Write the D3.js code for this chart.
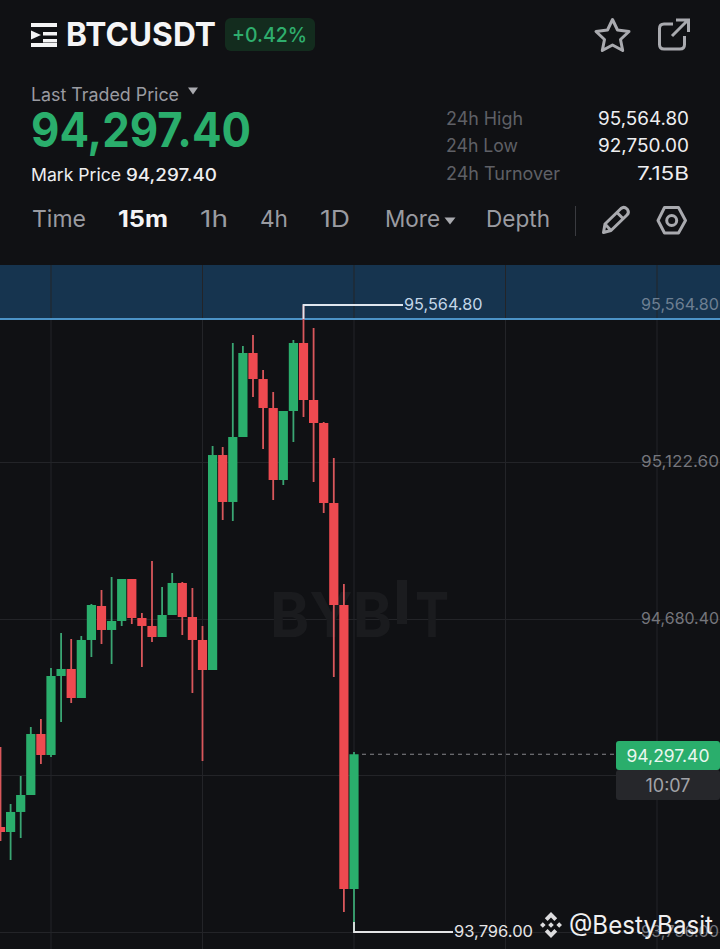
<!DOCTYPE html>
<html><head><meta charset="utf-8">
<script src="https://cdn.jsdelivr.net/npm/d3@7/dist/d3.min.js"></script>
<style>html,body{margin:0;padding:0;background:#101114;overflow:hidden}svg{display:block}text{font-family:Inter,"Noto Sans",sans-serif}</style>
</head><body><svg id="c" width="720" height="949"></svg>
<script>
const opens=[94092.2,94078.1,94134.6,94182.5,94354.6,94295.3,94518.2,94538.0,94456.1,94619.8,94715.7,94648.0,94673.4,94791.8,94681.8,94659.3,94628.2,94690.3,94780.6,94684.6,94619.8,94535.1,95141.6,95009.1,95192.4,95429.4,95356.0,95274.2,95071.1,95265.8,95457.6,95296.8,95231.9,95006.2,94718.5,93917.3];
const highs=[94317.9,94157.1,94236.1,94374.3,94396.9,94540.8,94639.5,94622.6,94631.0,94721.3,94760.8,94797.5,94791.8,94791.8,94695.9,94842.6,94769.3,94808.8,94783.4,94766.5,94659.3,95167.0,95164.2,95457.6,95449.1,95480.2,95381.4,95319.4,95265.8,95466.1,95564.8,95499.9,95234.7,95133.2,94777.8,94303.8];
const lows=[94052.7,93999.1,94061.2,94182.5,94270.0,94289.7,94388.4,94442.0,94456.1,94571.8,94608.5,94552.1,94659.3,94664.9,94543.6,94614.1,94628.2,94690.3,94633.9,94470.3,94278.4,94535.1,94958.3,94955.5,95192.4,95305.3,95158.6,95014.7,95057.0,95178.3,95248.8,95065.5,94978.0,94515.4,93852.5,93796.0];
const closes=[94078.1,94134.6,94182.5,94354.6,94295.3,94518.2,94538.0,94456.1,94619.8,94718.5,94648.0,94673.4,94791.8,94681.8,94659.3,94628.2,94690.3,94780.6,94684.6,94619.8,94535.1,95141.6,95009.1,95192.4,95429.4,95356.0,95274.2,95071.1,95265.8,95457.6,95296.8,95231.9,95006.2,94718.5,93917.3,94297.4];
const priceTicks=[95564.80,95122.60,94680.40,94238.20,93796.00];
const timeGridIdx=[5,20,35,50,65];
const intervals=["Time","15m","1h","4h","1D"];
const intervalActive="15m";
const statLabels=["24h High","24h Low","24h Turnover"];
const statValues=["95,564.80","92,750.00","7.15B"];
const symbol="BTCUSDT",change="+0.42%",lastPrice=94297.40,markPrice=94297.40,bandPrice=95525.3,high24=95564.80,low=93796.00,countdown="10:07";

const GREEN="#2aae6c",RED="#ee4a50",BG="#101114";
const svg=d3.select("#c");
const fmt=d3.format(",.2f");
svg.append("rect").attr("width",720).attr("height",949).attr("fill",BG);

/* header */
const logo=svg.append("g").attr("fill","#f4f4f5");
[[31,23,26,4],[43,32,14,3.5],[43,39,14,3.5],[31,43,26,4]].forEach(r=>logo.append("rect").attr("x",r[0]).attr("y",r[1]).attr("width",r[2]).attr("height",r[3]));
logo.append("path").attr("d","M31 30.5L41 35L31 39.5Z");
function T(x,y,s,size,fill,weight,anchor,parent){return (parent||svg).append("text").attr("x",x).attr("y",y).text(s).attr("font-size",size).attr("fill",fill).attr("font-weight",weight||400).attr("text-anchor",anchor||"start");}
T(66,46,symbol,33,"#f5f5f6",700).attr("textLength",150).attr("lengthAdjust","spacingAndGlyphs");
svg.append("rect").attr("x",225).attr("y",18).attr("width",90).attr("height",33).attr("rx",6).attr("fill","#14301f").attr("fill-opacity",.9);
T(232,42,change,20.5,"#2fae6d",500).attr("textLength",75).attr("lengthAdjust","spacingAndGlyphs");
/* star and share */
svg.append("path").attr("d","M612.5 19.5L617.5 30L629 31.5L620.5 39.5L622.7 50.5L612.5 45L602.3 50.5L604.5 39.5L596 31.5L607.5 30Z").attr("fill","none").attr("stroke","#a9aaaf").attr("stroke-width",3).attr("stroke-linejoin","round");
svg.append("path").attr("d","M673 24H664Q659.5 24 659.5 28.5V44.5Q659.5 49 664 49H680Q684.5 49 684.5 44.5V36M672 36L688 20M676 20H688.5V32").attr("fill","none").attr("stroke","#a9aaaf").attr("stroke-width",3);

T(31,101,"Last Traded Price",18,"#9a9ba1").attr("textLength",148).attr("lengthAdjust","spacingAndGlyphs");
svg.append("path").attr("d","M188 87.5H198L193 94.5Z").attr("fill","#a9aaaf");
T(31,147,fmt(lastPrice),47.5,"#2aae6c",700).attr("textLength",220).attr("lengthAdjust","spacingAndGlyphs");
T(31,181,"Mark Price",17,"#eeeef0",400).attr("textLength",90).attr("lengthAdjust","spacingAndGlyphs");
T(126,181,fmt(markPrice),17,"#eeeef0",500).attr("textLength",91).attr("lengthAdjust","spacingAndGlyphs");

const statY=[125,152,180];
const statW=[91,91,52];
statLabels.forEach((s,i)=>{
  T(446,statY[i],s,18,"#5f6066").attr("textLength",[77,72,114][i]).attr("lengthAdjust","spacingAndGlyphs");
  T(689,statY[i],statValues[i],18,"#eeeef0",400,"end").attr("textLength",statW[i]).attr("lengthAdjust","spacingAndGlyphs");
});

const tabX=[32,118,200,260,320];
const tabW=[54,50,28,28,30];
intervals.forEach((s,i)=>{
  const on=s===intervalActive;
  T(tabX[i],227,s,23,on?"#f5f5f6":"#9a9ba1",on?700:400).attr("textLength",tabW[i]).attr("lengthAdjust","spacingAndGlyphs");
});
T(385,227,"More",23,"#9a9ba1").attr("textLength",55).attr("lengthAdjust","spacingAndGlyphs");
svg.append("path").attr("d","M444.5 217.5H455.5L450 224.5Z").attr("fill","#a9aaaf");
T(486,227,"Depth",23,"#9a9ba1").attr("textLength",64).attr("lengthAdjust","spacingAndGlyphs");
svg.append("line").attr("x1",575.5).attr("x2",575.5).attr("y1",206).attr("y2",236).attr("stroke","#3a3b40");
/* pencil */
svg.append("path").attr("d","M603.5 232.5L605 224L621 208.5Q624 206 627 209L627.5 209.5Q629.5 212.5 627 215L611 230.5ZM617 212.5L623.5 219M605 224L611 230.5").attr("fill","none").attr("stroke","#a9aaaf").attr("stroke-width",3).attr("stroke-linejoin","round");
/* hexagon */
svg.append("path").attr("d","M664.5 207.5H678.5L685.5 220.5L678.5 233H664.5L658 220.5Z").attr("fill","none").attr("stroke","#a9aaaf").attr("stroke-width",3).attr("stroke-linejoin","round");
svg.append("circle").attr("cx",671.7).attr("cy",220.5).attr("r",5).attr("fill","none").attr("stroke","#a9aaaf").attr("stroke-width",3);

/* chart */
const x=d3.scaleLinear().domain([0,35]).range([0.5,354]);
const y=d3.scaleLinear().domain([low,high24]).range([932,305]);
const bodyW=9.2;
const plot=svg.append("g");
const topPrice=y.invert(265);

plot.append("rect").attr("x",0).attr("width",720).attr("y",y(topPrice)).attr("height",y(bandPrice)-y(topPrice)).attr("fill","#16344f");

plot.append("g").selectAll("line").data(priceTicks.slice(1)).join("line")
  .attr("x1",0).attr("x2",720).attr("y1",d=>Math.round(y(d))+.5).attr("y2",d=>Math.round(y(d))+.5).attr("stroke","#232428");
plot.append("g").selectAll("line").data(timeGridIdx).join("line")
  .attr("x1",d=>x(d)).attr("x2",d=>x(d)).attr("y1",265).attr("y2",949).attr("stroke","#232428");
const gy=plot.append("g").attr("transform","translate(641,-1)")
  .call(d3.axisRight(y).tickValues(priceTicks).tickFormat(fmt).tickSize(0).tickPadding(0));
gy.select(".domain").remove();
gy.selectAll("text").attr("font-size",16.5).attr("fill",(d,i)=>i===0?"#6d7f92":"#75767c").attr("font-family","Inter").attr("dy","0.36em").attr("textLength",78).attr("lengthAdjust","spacingAndGlyphs");
plot.append("line").attr("x1",0).attr("x2",720).attr("y1",y(bandPrice)).attr("y2",y(bandPrice)).attr("stroke","#4c93c7").attr("stroke-width",2);

/* faint exchange mark sits under the candles */
T(270,637,"BYB",62,"#1a1b1e",700,"start",plot).attr("textLength",122).attr("lengthAdjust","spacingAndGlyphs");
T(415,637,"T",62,"#1a1b1e",700,"start",plot).attr("textLength",34).attr("lengthAdjust","spacingAndGlyphs");
plot.append("rect").attr("x",397).attr("y",580).attr("width",10).attr("height",44).attr("fill","#1b1c1f");

const idx=d3.range(opens.length);
const candles=plot.append("g");
candles.selectAll("line").data(idx).join("line")
  .attr("x1",i=>x(i)).attr("x2",i=>x(i)).attr("y1",i=>y(highs[i])).attr("y2",i=>y(lows[i]))
  .attr("stroke",i=>closes[i]>=opens[i]?"#3aa673":"#d9575b").attr("stroke-width",1.8);
candles.selectAll("rect").data(idx).join("rect")
  .attr("x",i=>x(i)-bodyW/2).attr("width",bodyW)
  .attr("y",i=>y(Math.max(opens[i],closes[i])))
  .attr("height",i=>Math.max(1,Math.abs(y(opens[i])-y(closes[i]))))
  .attr("fill",i=>closes[i]>=opens[i]?GREEN:RED);

/* high / low leader */
const ix30=x(highs.indexOf(high24)),ix35=x(lows.indexOf(low));
plot.append("path").attr("d",`M${ix30} ${y(high24)+14}V${y(high24)}H403`).attr("fill","none").attr("stroke","#dfe6ee").attr("stroke-width",1.8);
T(404,y(high24)+4.5,fmt(high24),16.5,"#c3d6e8").attr("textLength",78.5).attr("lengthAdjust","spacingAndGlyphs");
plot.append("path").attr("d",`M${ix35} ${y(low)-10}V${y(low)}H453`).attr("fill","none").attr("stroke","#e4e4e6").attr("stroke-width",1.8);
T(454,y(low)+4.5,fmt(low),16.5,"#e4e4e6").attr("textLength",79).attr("lengthAdjust","spacingAndGlyphs");

/* last price */
plot.append("line").attr("x1",x(35)+8).attr("x2",616).attr("y1",y(lastPrice)).attr("y2",y(lastPrice)).attr("stroke","#85868b").attr("stroke-dasharray","4 4");
svg.append("rect").attr("x",616).attr("y",770).attr("width",104).attr("height",30).attr("rx",3).attr("fill","#26272b");
svg.append("rect").attr("x",616).attr("y",741).attr("width",104).attr("height",29).attr("rx",3).attr("fill",GREEN);
T(668,761.5,fmt(lastPrice),17,"#e9f7ef",400,"middle").attr("textLength",83).attr("lengthAdjust","spacingAndGlyphs");
T(668,791.5,countdown,18,"#a2a3a8",400,"middle");

/* watermark */
const bn=svg.append("g").attr("fill","#dcdcde");
bn.append("path").attr("d","M551 912l6.2 6.2-2.8 2.8-3.4-3.4-3.4 3.4-2.8-2.8zM540 925l2.8-2.8 2.8 2.8-2.8 2.8zM556.4 925l2.8-2.8 2.8 2.8-2.8 2.8zM551 922.2l2.8 2.8-2.8 2.8-2.8-2.8zM551 938l-6.2-6.2 2.8-2.8 3.4 3.4 3.4-3.4 2.8 2.8z");
T(569,934,"@BestyBasit",25,"#f0f0f1",400).attr("textLength",144).attr("lengthAdjust","spacingAndGlyphs");
</script></body></html>
